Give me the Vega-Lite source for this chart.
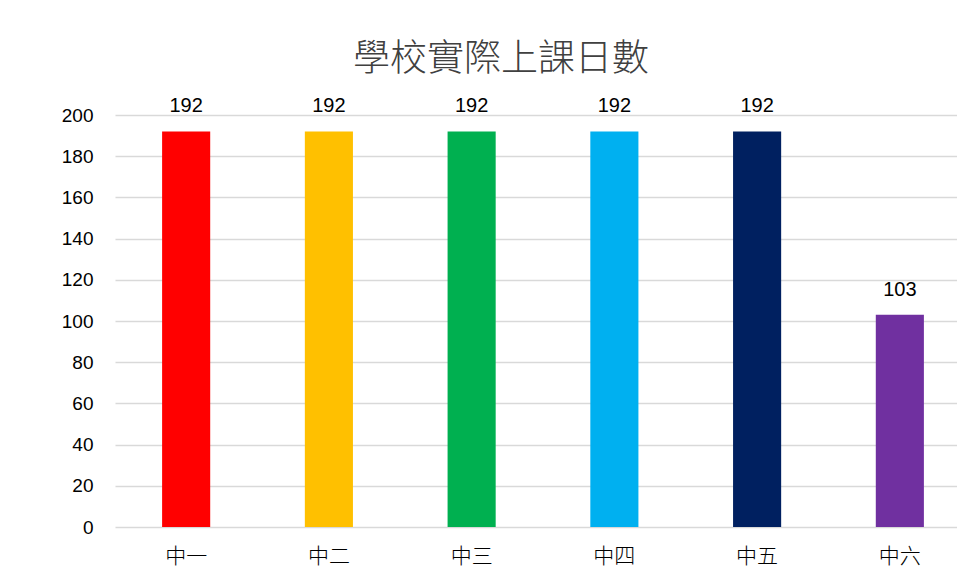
{
  "$schema": "https://vega.github.io/schema/vega-lite/v6.json",
  "autosize": "none",
  "width": 856,
  "height": 412,
  "padding": {"left": 115, "top": 115, "right": 0, "bottom": 56},
  "background": "white",
  "title": {
    "text": "學校實際上課日數",
    "font": "Noto Sans CJK TC",
    "fontSize": 37,
    "fontWeight": 300,
    "color": "#404040",
    "anchor": "middle",
    "dx": -42,
    "offset": 17
  },
  "data": {
    "values": [
      {"grade": "中一", "days": 192, "color": "#FF0000"},
      {"grade": "中二", "days": 192, "color": "#FFC000"},
      {"grade": "中三", "days": 192, "color": "#00B050"},
      {"grade": "中四", "days": 192, "color": "#00B0F0"},
      {"grade": "中五", "days": 192, "color": "#002060"},
      {"grade": "中六", "days": 103, "color": "#7030A0"}
    ]
  },
  "encoding": {
    "x": {
      "field": "grade",
      "type": "nominal",
      "sort": null,
      "title": null,
      "scale": {"paddingInner": 0.663, "paddingOuter": 0.33},
      "axis": {
        "labelAngle": 0,
        "labelFont": "Noto Sans CJK TC",
        "labelFontSize": 21,
        "labelFontWeight": 300,
        "labelColor": "#000000",
        "labelPadding": 18,
        "domain": false,
        "ticks": false
      }
    },
    "y": {
      "field": "days",
      "type": "quantitative",
      "title": null,
      "scale": {"domain": [0, 200]},
      "axis": {
        "values": [0, 20, 40, 60, 80, 100, 120, 140, 160, 180, 200],
        "labelFont": "Liberation Sans",
        "labelFontSize": 19,
        "labelColor": "#000000",
        "labelPadding": 22,
        "domain": false,
        "ticks": false,
        "grid": true,
        "gridColor": "#d9d9d9",
        "gridWidth": 1.3
      }
    }
  },
  "layer": [
    {
      "mark": {"type": "bar"},
      "encoding": {
        "color": {"field": "color", "type": "nominal", "scale": null, "legend": null}
      }
    },
    {
      "mark": {
        "type": "text",
        "baseline": "bottom",
        "dy": -15,
        "font": "Liberation Sans",
        "fontSize": 20,
        "color": "#000000"
      },
      "encoding": {"text": {"field": "days", "type": "quantitative"}}
    }
  ],
  "config": {"view": {"stroke": null}}
}
